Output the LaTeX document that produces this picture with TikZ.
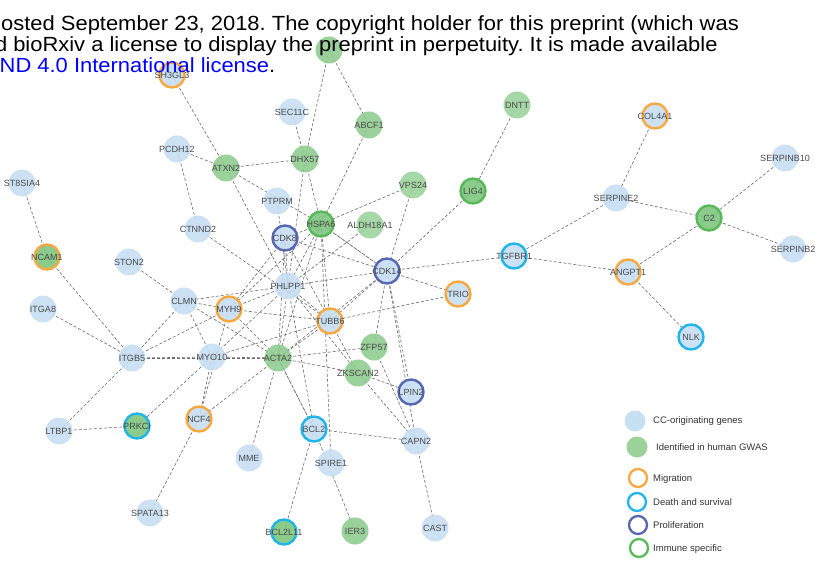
\documentclass[tikz,border=0pt]{standalone}
\usepackage{fontspec}
\setmainfont{Liberation Sans}
\newfontfamily\hdrfont[FakeStretch=1.07]{Liberation Sans}
\usetikzlibrary{backgrounds}

\definecolor{cellblue}{HTML}{C6DFF3}
\definecolor{gwasgreen}{HTML}{8ECB8E}
\definecolor{gwaslight}{HTML}{9AD29A}
\definecolor{gwasdeep}{HTML}{7CC47C}
\definecolor{migr}{HTML}{F9A83F}
\definecolor{death}{HTML}{1FB4EA}
\definecolor{prolif}{HTML}{5467B0}
\definecolor{immune}{HTML}{58B958}
\definecolor{labelgray}{HTML}{4A4A4A}
\definecolor{legendgray}{HTML}{333333}
\definecolor{linkgray}{HTML}{6A6A6A}
\definecolor{urlblue}{HTML}{0000FF}

% gene symbols are centred on the disc without widening it
\newcommand{\gsym}[1]{\makebox[0pt][c]{#1}}

\tikzset{
  gene/.style={circle, minimum size=27pt, inner sep=0pt, fill=cellblue,
    fill opacity=0.88, text opacity=1, text=labelgray,
    font=\fontsize{9}{10}\selectfont},
  gwas/.style={gene, fill=gwasgreen},
  gwaslt/.style={gene, fill=gwaslight},
  gwasdk/.style={gene, fill=gwasdeep},
  ringed/.style={minimum size=25pt, draw=#1, line width=2.4pt},
  link/.style={draw=linkgray, line width=0.6pt, dash pattern=on 3pt off 2pt},
  tight/.style={draw=linkgray, line width=0.7pt, dash pattern=on 4pt off 1pt},
  legdot/.style={circle, minimum size=21pt, inner sep=0pt},
  legring/.style={circle, minimum size=18pt, inner sep=0pt, draw=#1, line width=2.3pt, fill=white},
  legtext/.style={anchor=west, inner sep=0pt, text=legendgray, font=\fontsize{9.5}{11}\selectfont},
  hdr/.style={anchor=base west, inner sep=0pt, font=\hdrfont\fontsize{20.5}{22}\selectfont}
}

\begin{document}
\begin{tikzpicture}[x=1pt, y=-1pt]
\useasboundingbox (0,0) rectangle (825,564);

% ---- genes ----
\node[gwas] (gtop) at (329,50) {};
\node[gene, ringed=migr] (sh3gl3) at (172,75) {\gsym{SH3GL3}};
\node[gene] (sec11c) at (292,112) {\gsym{SEC11C}};
\node[gwas] (abcf1) at (369,125) {\gsym{ABCF1}};
\node[gwaslt] (dntt) at (517,105) {\gsym{DNTT}};
\node[gene, ringed=migr] (col4a1) at (655,116) {\gsym{COL4A1}};
\node[gene] (pcdh12) at (177,149) {\gsym{PCDH12}};
\node[gwas] (atxn2) at (226,168) {\gsym{ATXN2}};
\node[gwas] (dhx57) at (305,159) {\gsym{DHX57}};
\node[gene] (serpinb10) at (785,158) {\gsym{SERPINB10}};
\node[gene] (st8sia4) at (22,183) {\gsym{ST8SIA4}};
\node[gwaslt] (vps24) at (413,185) {\gsym{VPS24}};
\node[gwasdk, ringed=immune] (lig4) at (473,191) {\gsym{LIG4}};
\node[gene] (serpine2) at (616,198) {\gsym{SERPINE2}};
\node[gene] (ptprm) at (277,201) {\gsym{PTPRM}};
\node[gwasdk, ringed=immune] (c2) at (709,218) {\gsym{C2}};
\node[gene] (ctnnd2) at (198,229) {\gsym{CTNND2}};
\node[gwasdk, ringed=immune] (hspa6) at (321,224) {\gsym{HSPA6}};
\node[gwaslt] (aldh18a1) at (370,225) {\gsym{ALDH18A1}};
\node[gene, ringed=prolif] (cdk8) at (285,238) {\gsym{CDK8}};
\node[gene] (serpinb2) at (793,249) {\gsym{SERPINB2}};
\node[gwasdk, ringed=migr] (ncam1) at (47,257) {\gsym{NCAM1}};
\node[gene] (ston2) at (129,262) {\gsym{STON2}};
\node[gene, ringed=death] (tgfbr1) at (514,256) {\gsym{TGFBR1}};
\node[gene, ringed=prolif] (cdk14) at (387,271) {\gsym{CDK14}};
\node[gene, ringed=migr] (angpt1) at (628,272) {\gsym{ANGPT1}};
\node[gene] (phlpp1) at (288,286) {\gsym{PHLPP1}};
\node[gene, ringed=migr] (trio) at (458,294) {\gsym{TRIO}};
\node[gene] (clmn) at (184,301) {\gsym{CLMN}};
\node[gene, ringed=migr] (myh9) at (229,309) {\gsym{MYH9}};
\node[gene] (itga8) at (43,309) {\gsym{ITGA8}};
\node[gene, ringed=migr] (tubb6) at (330,321) {\gsym{TUBB6}};
\node[gene, ringed=death] (nlk) at (691,337) {\gsym{NLK}};
\node[gwas] (zfp57) at (374,347) {\gsym{ZFP57}};
\node[gene] (itgb5) at (132,358) {\gsym{ITGB5}};
\node[gene] (myo10) at (212,357) {\gsym{MYO10}};
\node[gwas] (acta2) at (278,358) {\gsym{ACTA2}};
\node[gwas] (zkscan2) at (358,373) {\gsym{ZKSCAN2}};
\node[gene, ringed=prolif] (lpin2) at (411,392) {\gsym{LPIN2}};
\node[gene] (ltbp1) at (59,431) {\gsym{LTBP1}};
\node[gwasdk, ringed=death] (prkci) at (137,426) {\gsym{PRKCI}};
\node[gene, ringed=migr] (ncf4) at (199,419) {\gsym{NCF4}};
\node[gene, ringed=death] (bcl2) at (314,429) {\gsym{BCL2}};
\node[gene] (capn2) at (416,441) {\gsym{CAPN2}};
\node[gene] (mme) at (249,458) {\gsym{MME}};
\node[gene] (spire1) at (331,463) {\gsym{SPIRE1}};
\node[gene] (spata13) at (150,513) {\gsym{SPATA13}};
\node[gwasdk, ringed=death] (bcl2l11) at (284,532) {\gsym{BCL2L11}};
\node[gwas] (ier3) at (355,531) {\gsym{IER3}};
\node[gene] (cast) at (435,528) {\gsym{CAST}};

% ---- interactions, behind the genes ----
\begin{pgfonlayer}{background}
\fill[white] (0,0) rectangle (825,564);
\foreach \a/\b in {
  gtop/abcf1, gtop/dhx57, sh3gl3/atxn2, sec11c/dhx57, abcf1/hspa6,
  dntt/lig4, col4a1/serpine2, pcdh12/atxn2, pcdh12/ctnnd2,
  atxn2/dhx57, atxn2/hspa6, atxn2/phlpp1, dhx57/hspa6, dhx57/phlpp1,
  serpinb10/c2, st8sia4/ncam1, vps24/hspa6, vps24/cdk14, lig4/cdk14,
  serpine2/c2, serpine2/tgfbr1, ptprm/phlpp1, c2/serpinb2, c2/angpt1,
  ctnnd2/tubb6, hspa6/phlpp1, hspa6/myh9, hspa6/acta2,
  hspa6/tubb6, hspa6/spire1, hspa6/cdk8, aldh18a1/phlpp1,
  cdk8/cdk14, cdk8/phlpp1, cdk8/myh9, cdk8/acta2, cdk8/tubb6,
  ncam1/itgb5, ston2/clmn, tgfbr1/cdk14, tgfbr1/angpt1,
  cdk14/phlpp1, cdk14/trio, cdk14/tubb6, cdk14/acta2, cdk14/zfp57,
  cdk14/lpin2, cdk14/capn2, angpt1/nlk,
  phlpp1/myh9, phlpp1/clmn, phlpp1/tubb6, phlpp1/acta2, phlpp1/myo10,
  phlpp1/zkscan2, phlpp1/bcl2, trio/tubb6,
  clmn/myh9, clmn/itgb5, clmn/myo10, clmn/acta2,
  myh9/itgb5, myh9/tubb6, myh9/acta2, myh9/ncf4, itga8/itgb5,
  tubb6/acta2, tubb6/myo10, tubb6/zkscan2,
  itgb5/myo10, itgb5/acta2, itgb5/ltbp1,
  myo10/acta2, myo10/prkci, myo10/ncf4,
  acta2/ncf4, acta2/mme, acta2/zfp57, acta2/zkscan2,
  zfp57/capn2, zkscan2/lpin2, zkscan2/capn2,
  ltbp1/prkci, ncf4/spata13, bcl2/capn2, bcl2/bcl2l11, bcl2/ier3,
  capn2/cast}
  \draw[link] (\a.center) -- (\b.center);
\draw[tight] (hspa6.center) -- (cdk14.center);
\draw[tight] (acta2.center) -- (bcl2.center);
\end{pgfonlayer}

% ---- legend ----
\node[legdot, fill=cellblue] (lgcc) at (635,421) {};
\node[legtext] (lgcct) at (653,421) {CC-originating genes};
\node[legdot, fill=gwaslight] (lggw) at (637,447) {};
\node[legtext] (lggwt) at (656,447) {Identified in human GWAS};
\node[legring=migr] (lgmi) at (638,478) {};
\node[legtext] (lgmit) at (653,479) {Migration};
\node[legring=death] (lgde) at (637,502) {};
\node[legtext] (lgdet) at (653,502) {Death and survival};
\node[legring=prolif] (lgpr) at (638,525) {};
\node[legtext] (lgprt) at (653,525) {Proliferation};
\node[legring=immune] (lgim) at (639,548) {};
\node[legtext] (lgimt) at (653,549) {Immune specific};

% ---- page text lying over the figure ----
\node[hdr] (hdra) at (1,30.5) {\frenchspacing osted September 23, 2018. The copyright holder for this preprint (which was};
\node[hdr] (hdrb) at (-5.2,51.5) {\frenchspacing d bioRxiv a license to display the preprint in perpetuity. It is made available};
\node[hdr] (hdrc) at (-0.5,72.5) {\textcolor{urlblue}{ND 4.0 International license}.};
\end{tikzpicture}
\end{document}
